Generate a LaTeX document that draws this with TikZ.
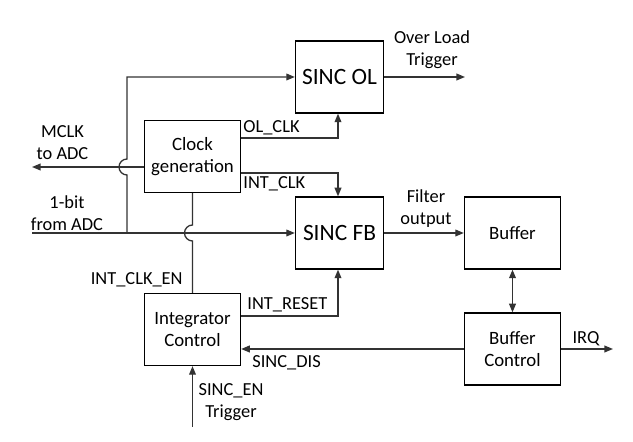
\documentclass[tikz,border=0pt]{standalone}
\usepackage{fontspec}
\setmainfont{Carlito}
\usetikzlibrary{arrows.meta,calc}
\tikzset{
  blk/.style={draw, line width=0.65pt, minimum width=48pt, minimum height=36pt, align=center, inner sep=1pt, font=\fontsize{9.4}{11}\selectfont},
  bigblk/.style={blk, minimum width=44pt, font=\fontsize{11.7}{14}\selectfont},
  lbl/.style={inner sep=1pt, align=center, font=\fontsize{9.2}{11}\selectfont},
  wire/.style={line width=0.65pt, draw=black!80}
}
\begin{document}
\begin{tikzpicture}[x=0.5pt, y=-0.5pt, >={Triangle[length=4.3pt, width=3.4pt]}]
			\useasboundingbox (0,0) rectangle (633,442);
			% blocks
			\node[bigblk] (ol) at (339.5,77) {SINC OL};
			\node[bigblk] (fb) at (339.5,233) {SINC FB};
			\node[blk] (clk) at (192.5,156.5) {Clock\\generation};
			\node[blk] (ic) at (192.5,329.5) {Integrator\\Control};
			\node[blk] (buf) at (512.5,233) {Buffer};
			\node[blk] (bc) at (512.5,349) {Buffer\\Control};
			% free ends
			\coordinate (mclk) at (32,167);
			\coordinate (bit) at (32,233);
			\coordinate (split) at (127,233);
			\coordinate (olt) at (465,77);
			\coordinate (irq) at (613,349);
			\coordinate (en) at (192.5,427);
			% connectors
			\draw[wire, ->] ([yshift=-5.25pt]clk.west) -- (mclk);
			\draw[wire, ->] (bit) -- (fb.west);
			\draw[wire, ->] (split) -- ($(split |- mclk)+(0,8)$) arc[start angle=270, end angle=90, radius=4pt] -- (split |- ol.west) -- (ol.west);
			\draw[wire] (clk.south) -- ($(clk.south |- bit)+(0,-8)$) arc[start angle=90, end angle=270, radius=4pt] -- (ic.north);
			\draw[wire, ->] ([yshift=9.25pt]clk.east) -| ([xshift=-0.75pt]ol.south);
			\draw[wire, ->] ([yshift=-8.25pt]clk.east) -| ([xshift=-0.75pt]fb.north);
			\draw[wire, ->] ([yshift=6.75pt]ic.east) -| ([xshift=-0.75pt]fb.south);
			\draw[wire, ->] (bc.west) -- (bc.west -| ic.east);
			\draw[wire, ->] (bc.east) -- (irq);
			\draw[wire, <->] (buf.south) -- (bc.north);
			\draw[wire, ->] (fb.east) -- (buf.west);
			\draw[wire, ->] (ol.east) -- (olt);
			\draw[wire, ->] (en) -- (ic.south);
			% labels
			\node[lbl] (oltxt) at (432,50) {Over Load\\Trigger};
			\node[lbl, anchor=west] (olclk) at (241,128) {OL\_CLK};
			\node[lbl, anchor=west] (intclk) at (241,184) {INT\_CLK};
			\node[lbl, anchor=west] (intrst) at (245,305) {INT\_RESET};
			\node[lbl, anchor=west] (sincdis) at (250,363) {SINC\_DIS};
			\node[lbl, anchor=east] (clken) at (185,280) {INT\_CLK\_EN};
			\node[lbl] (sincen) at (231,402) {SINC\_EN\\Trigger};
			\node[lbl] (mclktxt) at (62.5,143) {MCLK\\to ADC};
			\node[lbl] (bittxt) at (67,213.5) {1-bit\\from ADC};
			\node[lbl] (filt) at (426,209) {Filter\\output};
			\node[lbl] (irqtxt) at (586,339) {IRQ};
\end{tikzpicture}
\end{document}
